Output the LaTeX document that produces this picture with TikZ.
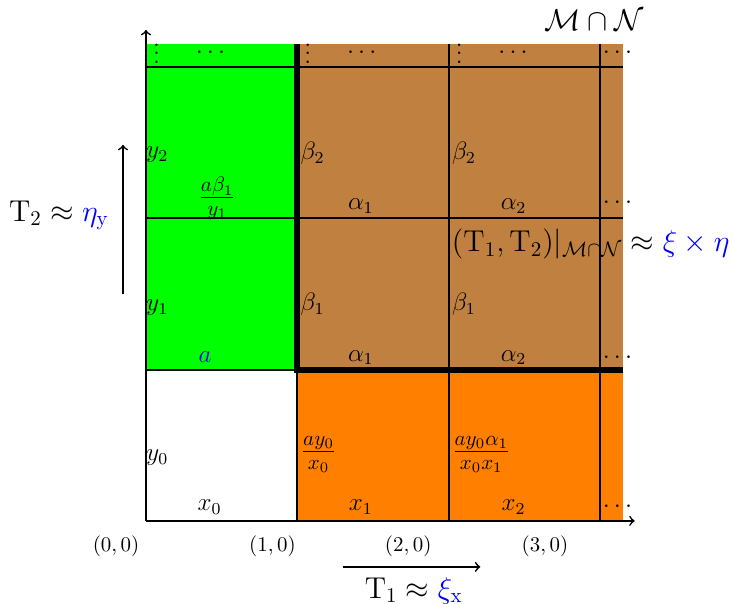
\documentclass[tikz,border=0pt]{standalone}
\usepackage{amsmath}
\begin{document}
\begin{tikzpicture}[x=2.54cm, y=2.54cm,
  cell/.style={font=\large},
  west cell/.style={font=\large, anchor=west, inner sep=0pt},
  frac cell/.style={font=\Large, anchor=west, inner sep=0pt},
  big/.style={font=\Large},
  gridline/.style={line width=1pt},
  border/.style={line width=2.8pt}]

  \useasboundingbox (-0.965,-0.549) rectangle (3.880,3.443);

  % Edge of the drawn plane
  \def\e{3.15}

  % Coloured regions
  \fill[green]  (0,1) rectangle (1,\e);
  \fill[brown]  (1,1) rectangle (\e,\e);
  \fill[orange] (1,0) rectangle (\e,1);

  % Grid
  \foreach \k in {1,2,3} {
    \draw[gridline] (\k,0) -- (\k,\e);
    \draw[gridline] (0,\k) -- (\e,\k);
  }

  % Axes
  \coordinate (O) at (0,0);
  \coordinate (X) at (3.23,0);
  \coordinate (Y) at (0,3.245);
  \draw[thick, ->] (O) -- (X);
  \draw[thick, ->] (O) -- (Y);

  % Boundary of M cap N
  \coordinate (B1) at (1,\e);
  \coordinate (B2) at (1,1);
  \coordinate (B3) at (\e,1);
  \draw[border] (B1) -- (B2) -- (B3);

  % Row 0
  \node[cell] (x0) at (0.42,0.09) {$x_0$};
  \node[cell] (x1) at (1.42,0.09) {$x_1$};
  \node[cell] (x2) at (2.43,0.09) {$x_2$};
  \node[cell] (r0) at (3.13,0.09) {$\cdots$};
  \node[west cell] (y0) at (0,0.42) {$y_0$};
  \node[frac cell] (f10) at (1.02,0.44) {$\frac{ay_0}{x_0}$};
  \node[frac cell] (f20) at (2.02,0.44) {$\frac{ay_0\alpha_1}{x_0x_1}$};

  % Row 1
  \node[cell] (a) at (0.39,1.08) {$\color{blue}a$};
  \node[cell] (a11) at (1.42,1.08) {$\alpha_1$};
  \node[cell] (a21) at (2.43,1.08) {$\alpha_2$};
  \node[cell] (r1) at (3.13,1.08) {$\cdots$};
  \node[west cell] (y1) at (0,1.41) {$y_1$};
  \node[west cell] (b11) at (1.02,1.43) {$\beta_1$};
  \node[west cell] (b21) at (2.02,1.43) {$\beta_1$};

  % Row 2
  \node[font=\Large] (f02) at (0.47,2.13) {$\frac{a\beta_1}{y_1}$};
  \node[cell] (a12) at (1.42,2.08) {$\alpha_1$};
  \node[cell] (a22) at (2.43,2.08) {$\alpha_2$};
  \node[cell] (r2) at (3.13,2.10) {$\cdots$};
  \node[west cell] (y2) at (0,2.42) {$y_2$};
  \node[west cell] (b12) at (1.02,2.43) {$\beta_2$};
  \node[west cell] (b22) at (2.02,2.43) {$\beta_2$};

  % Top row
  \foreach \k in {0,1,2} {
    \node[cell] (v\k) at (\k+0.07,3.13) {$\vdots$};
    \node[cell] (h\k) at (\k+0.44,3.09) {$\cdots$};
  }
  \node[cell] (h3) at (3.13,3.09) {$\cdots$};

  % Corner labels
  \node (p0) at (-0.198,-0.17) {$(0,0)$};
  \node (p1) at (0.836,-0.17) {$(1,0)$};
  \node (p2) at (1.733,-0.17) {$(2,0)$};
  \node (p3) at (2.637,-0.17) {$(3,0)$};

  % Shifts
  \coordinate (S1a) at (1.30,-0.304);
  \coordinate (S1b) at (2.21,-0.304);
  \draw[thick, ->] (S1a) -- (S1b);
  \node[big] (T1) at (1.77,-0.46) {$\mathrm{T}_1\approx{\color{blue}\xi_{\mathrm{x}}}$};

  \coordinate (S2a) at (-0.152,1.50);
  \coordinate (S2b) at (-0.152,2.485);
  \draw[thick, ->] (S2a) -- (S2b);
  \node[big] (T2) at (-0.575,2.02) {$\mathrm{T}_2\approx{\color{blue}\eta_{\mathrm{y}}}$};

  % Labels
  \node[big] (MN) at (2.96,3.31) {$\mathcal{M}\cap\mathcal{N}$};
  \node[big] (TT) at (2.94,1.83) {$(\mathrm{T}_1,\mathrm{T}_2)|_{\mathcal{M}\cap\mathcal{N}}\approx{\color{blue}\xi\times\eta}$};

\end{tikzpicture}
\end{document}
